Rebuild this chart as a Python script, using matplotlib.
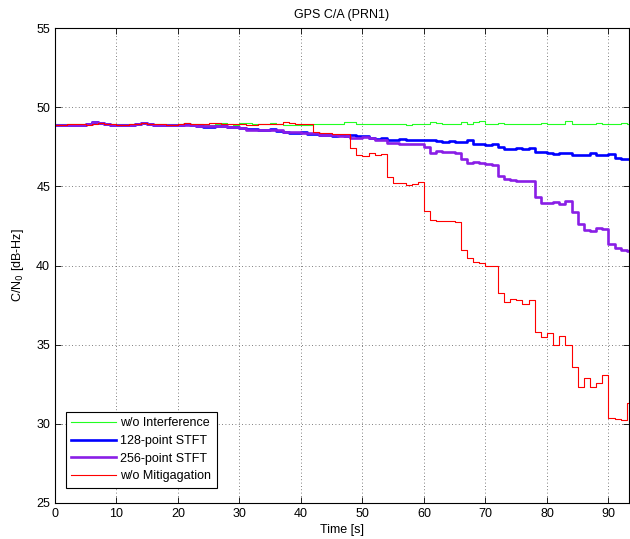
import matplotlib
matplotlib.use("Agg")
import matplotlib.pyplot as plt
import numpy as np

plt.rcParams['font.family'] = ['Liberation Sans', 'DejaVu Sans']
plt.rcParams['font.size'] = 9

# one value per second, t = 0..93 (step held until next second)
t_end = 93.3

no_interf = [48.95, 48.95, 48.95, 48.95, 48.95, 48.95, 49.0, 49.0, 48.95, 48.95,
             48.95, 48.95, 48.95, 48.95, 49.0, 48.95, 48.95, 48.95, 48.95, 48.95,
             48.95, 49.0, 48.95, 48.95, 48.9, 48.9, 48.95, 49.0, 48.95, 48.9,
             49.0, 49.0, 48.95, 48.95, 48.95, 49.0, 48.95, 48.9, 48.9, 48.9,
             48.85, 48.85, 48.95, 48.95, 48.95, 48.95, 48.95, 49.05, 49.05, 48.95,
             48.95, 48.95, 48.95, 48.95, 48.95, 48.95, 48.95, 48.9, 48.95, 48.95,
             48.95, 49.05, 49.0, 48.95, 48.95, 48.95, 49.05, 48.95, 49.05, 49.1,
             48.95, 48.95, 49.0, 48.95, 48.95, 48.95, 48.95, 48.95, 48.95, 49.03,
             48.95, 48.95, 48.95, 49.1, 48.95, 48.95, 48.95, 48.95, 49.0, 48.95,
             48.95, 48.95, 49.0, 48.95]

stft128 = [48.9, 48.85, 48.9, 48.9, 48.9, 48.95, 49.05, 49.0, 48.95, 48.9,
           48.9, 48.9, 48.9, 48.95, 49.0, 48.95, 48.9, 48.85, 48.85, 48.9,
           48.9, 48.95, 48.85, 48.8, 48.75, 48.75, 48.8, 48.8, 48.75, 48.75,
           48.7, 48.65, 48.6, 48.55, 48.55, 48.6, 48.5, 48.45, 48.4, 48.4,
           48.45, 48.3, 48.3, 48.25, 48.25, 48.2, 48.25, 48.2, 48.25, 48.15,
           48.2, 48.05, 48.0, 48.05, 47.95, 47.95, 48.0, 47.95, 47.95, 47.95,
           47.9, 47.9, 47.85, 47.8, 47.85, 47.8, 47.8, 47.9, 47.65, 47.65,
           47.6, 47.7, 47.5, 47.35, 47.35, 47.45, 47.35, 47.45, 47.2, 47.2,
           47.1, 47.05, 47.12, 47.08, 46.98, 46.98, 46.98, 47.08, 46.98, 46.98,
           47.03, 46.8, 46.72, 46.7]

stft256 = [48.9, 48.9, 48.9, 48.85, 48.9, 48.95, 49.05, 49.0, 48.95, 48.9,
           48.9, 48.9, 48.9, 48.95, 49.0, 48.95, 48.9, 48.85, 48.85, 48.9,
           48.9, 48.85, 48.85, 48.8, 48.8, 48.8, 48.8, 48.8, 48.75, 48.75,
           48.7, 48.55, 48.55, 48.55, 48.55, 48.55, 48.55, 48.45, 48.45, 48.45,
           48.35, 48.35, 48.35, 48.25, 48.25, 48.25, 48.2, 48.15, 48.03, 48.03,
           48.13, 48.03, 47.93, 47.93, 47.75, 47.75, 47.65, 47.65, 47.65, 47.65,
           47.5, 47.12, 47.23, 47.2, 47.19, 47.08, 46.72, 46.5, 46.55, 46.45,
           46.4, 46.38, 45.65, 45.44, 45.4, 45.33, 45.33, 45.33, 44.34, 43.92,
           43.92, 44.0, 43.9, 44.07, 43.4, 42.6, 42.24, 42.2, 42.35, 42.3,
           41.34, 41.1, 41.0, 40.92]

no_mitig = [48.9, 48.9, 48.95, 48.95, 48.95, 48.9, 48.95, 49.0, 48.95, 48.95,
            48.9, 48.9, 48.95, 48.95, 49.0, 48.95, 48.95, 48.95, 48.9, 48.9,
            48.95, 49.0, 48.95, 48.95, 48.95, 49.0, 49.0, 48.95, 48.95, 48.95,
            48.95, 48.9, 48.9, 48.95, 48.95, 48.95, 48.95, 49.05, 49.0, 48.95,
            48.95, 48.95, 48.45, 48.35, 48.35, 48.3, 48.3, 48.3, 47.4, 46.95,
            46.9, 47.1, 46.95, 47.05, 45.6, 45.2, 45.2, 45.1, 45.15, 45.25,
            43.45, 42.85, 42.8, 42.8, 42.8, 42.75, 41.0, 40.45, 40.2, 40.15,
            40.0, 40.0, 38.25, 37.7, 37.9, 37.8, 37.6, 37.8, 35.8, 35.5,
            35.75, 35.0, 35.55, 35.0, 33.6, 32.3, 32.9, 32.3, 32.6, 33.1,
            30.35, 30.3, 30.25, 31.3]

labels = ['w/o Interference', '128-point STFT', '256-point STFT', 'w/o Mitigagation']


def steps(vals):
    x = np.append(np.arange(len(vals)), t_end)
    y = np.append(vals, vals[-1])
    return x, y


fig = plt.figure(figsize=(6.3, 5.39), dpi=100)
ax = fig.add_axes([0.0873, 0.0668, 0.9107, 0.8812])

ax.plot(*steps(no_interf), drawstyle='steps-post', color='#22ff22', lw=0.8, label=labels[0])
ax.plot(*steps(stft128), drawstyle='steps-post', color='#0000ff', lw=1.9, label=labels[1])
ax.plot(*steps(stft256), drawstyle='steps-post', color='#8a1ee6', lw=1.9, label=labels[2])
ax.plot(*steps(no_mitig), drawstyle='steps-post', color='#ff0000', lw=0.8, label=labels[3])

ax.set_xlim(0, t_end)
ax.set_ylim(25, 55)
ax.set_xticks(np.arange(0, 91, 10))
ax.set_yticks(np.arange(25, 56, 5))
ax.grid(True, linestyle=(0, (1, 3)), color='#555555', lw=0.6)
ax.tick_params(direction='in', top=True, right=True, length=4, width=0.6)
for s in ax.spines.values():
    s.set_linewidth(0.8)

ax.set_title('GPS C/A (PRN1)', fontsize=9, pad=7)
ax.set_xlabel('Time [s]', labelpad=3)
ax.set_ylabel('C/N$_0$ [dB-Hz]', labelpad=7)

leg = ax.legend(loc='lower left', bbox_to_anchor=(0.012, 0.024), fancybox=False,
                edgecolor='black', framealpha=1, handlelength=3.6, borderpad=0.45,
                labelspacing=0.45, handletextpad=0.3, borderaxespad=0.3)
leg.get_frame().set_linewidth(0.8)

fig.savefig('out.png', dpi=100)
